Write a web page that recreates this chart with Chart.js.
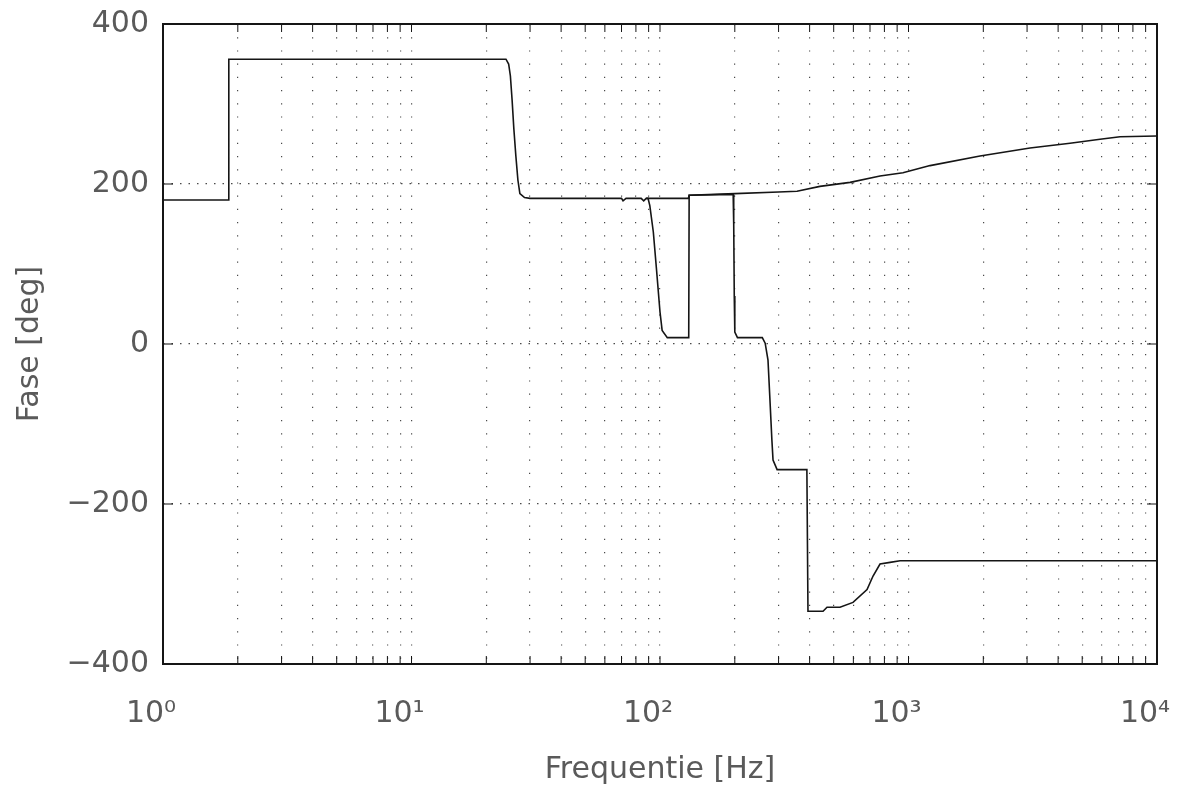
<!DOCTYPE html>
<html lang="nl">
<head>
  <meta charset="UTF-8">
  <title>Fase [deg]</title>
  <script src="https://cdn.jsdelivr.net/npm/chart.js"></script>
  <style>
    html, body {
      margin: 0;
      padding: 0;
      background: #ffffff;
    }
    #wrap {
      width: 1184px;
      height: 800px;
      position: relative;
    }
  </style>
</head>
<body>
  <div id="wrap"><canvas id="fase"></canvas></div>

  <script>
    // frequentie-as (log) en fase-as
    const xTickValues = [1, 2, 3, 4, 5, 6, 7, 8, 9,
      10, 20, 30, 40, 50, 60, 70, 80, 90,
      100, 200, 300, 400, 500, 600, 700, 800, 900,
      1000, 2000, 3000, 4000, 5000, 6000, 7000, 8000, 9000, 10000];
    const decadeLabels = { 1: "10\u2070", 10: "10\u00B9", 100: "10\u00B2", 1000: "10\u00B3", 10000: "10\u2074" };
    const yTickValues = [-400, -200, 0, 200, 400];

    // curve 1 (bovenste tak)
    const freqA = [1, 1.83, 1.84, 24, 24.6, 25, 25.4, 25.8, 26.3, 26.8, 27.3, 28.5, 30,
      70, 71, 73, 84, 86, 88, 130, 131, 200, 300, 356, 440, 582, 768, 950,
      1221, 1940, 3083, 4467, 5900, 7100, 10000];
    const phaseA = [180, 180, 356, 356, 350, 335, 305, 270, 235, 205, 188, 183, 182,
      182, 179, 182, 182, 179, 182, 182, 186, 188, 190, 191, 197, 202, 210, 214,
      223, 235, 245, 251, 256, 259, 260];

    // curve 2 (met de dips en de onderste tak)
    const freqB = [88, 89.5, 91, 94, 97, 100, 102, 107, 124, 130.5, 131,
      197, 198, 199, 200, 205, 248, 258, 265, 272, 277, 282, 285, 296,
      390, 394, 453, 470, 530, 598, 681, 720, 768, 843, 925, 10000];
    const phaseB = [182, 182, 173, 140, 90, 40, 17, 8, 8, 8, 186,
      187, 150, 60, 15, 8, 8, 8, 1, -20, -70, -120, -145, -157,
      -157, -334, -334, -329, -329, -323, -307, -290, -275, -273, -271, -271];

    const toPoints = (xs, ys) => xs.map((x, i) => ({ x: x, y: ys[i] }));

    const ink = "#151515";
    const gridInk = "#4a4a4a";
    const textInk = "#5a5a5a";

    // kader + korte tickjes naar binnen
    const framePlugin = {
      id: "frame",
      afterDraw(chart) {
        const { ctx, chartArea: a, scales } = chart;
        ctx.save();
        ctx.strokeStyle = ink;
        ctx.lineWidth = 1;
        xTickValues.forEach(v => {
          const px = scales.x.getPixelForValue(v);
          ctx.beginPath();
          ctx.moveTo(px, a.bottom);
          ctx.lineTo(px, a.bottom - 8);
          ctx.moveTo(px, a.top);
          ctx.lineTo(px, a.top + 8);
          ctx.stroke();
        });
        yTickValues.forEach(v => {
          const py = scales.y.getPixelForValue(v);
          ctx.beginPath();
          ctx.moveTo(a.left, py);
          ctx.lineTo(a.left + 10, py);
          ctx.moveTo(a.right, py);
          ctx.lineTo(a.right - 10, py);
          ctx.stroke();
        });
        ctx.lineWidth = 2;
        ctx.strokeRect(a.left, a.top, a.right - a.left, a.bottom - a.top);
        ctx.restore();
      }
    };

    new Chart(document.getElementById("fase"), {
      type: "scatter",
      data: {
        datasets: [
          {
            label: "curve 2",
            data: toPoints(freqB, phaseB),
            showLine: true,
            borderColor: ink,
            borderWidth: 1.6,
            pointRadius: 0,
            fill: false
          },
          {
            label: "curve 1",
            data: toPoints(freqA, phaseA),
            showLine: true,
            borderColor: ink,
            borderWidth: 1.6,
            pointRadius: 0,
            fill: false
          }
        ]
      },
      options: {
        responsive: true,
        maintainAspectRatio: false,
        animation: false,
        layout: { padding: { top: 24, right: 27, bottom: 0, left: 0 } },
        plugins: {
          legend: { display: false },
          tooltip: { enabled: false }
        },
        scales: {
          x: {
            type: "logarithmic",
            min: 1,
            max: 10000,
            afterBuildTicks: scale => {
              scale.ticks = xTickValues.map(v => ({ value: v }));
            },
            afterFit: scale => {
              scale.height = 136;
              scale.paddingLeft = 0;
              scale.paddingRight = 0;
            },
            ticks: {
              autoSkip: false,
              maxRotation: 0,
              padding: 32,
              labelOffset: -12,
              color: textInk,
              font: { family: "DejaVu Sans", size: 30 },
              callback: value => decadeLabels[value] || ""
            },
            grid: {
              drawTicks: false,
              color: gridInk,
              lineWidth: 1.2
            },
            border: { display: false, dash: [1.2, 12] },
            title: {
              display: true,
              text: "Frequentie [Hz]",
              color: textInk,
              font: { family: "DejaVu Sans", size: 30 },
              padding: { top: 0, bottom: 12 }
            }
          },
          y: {
            min: -400,
            max: 400,
            afterBuildTicks: scale => {
              scale.ticks = yTickValues.map(v => ({ value: v }));
            },
            afterFit: scale => {
              scale.width = 163;
              scale.paddingTop = 0;
              scale.paddingBottom = 0;
            },
            ticks: {
              padding: 14,
              color: textInk,
              font: { family: "DejaVu Sans", size: 30 },
              callback: value => (value < 0 ? "\u2212" + Math.abs(value) : String(value))
            },
            grid: {
              drawTicks: false,
              color: gridInk,
              lineWidth: 1.3
            },
            border: { display: false, dash: [1.5, 7] },
            title: {
              display: true,
              text: "Fase [deg]",
              color: textInk,
              font: { family: "DejaVu Sans", size: 30 },
              padding: { top: 12, bottom: 0 }
            }
          }
        }
      },
      plugins: [framePlugin]
    });
  </script>
</body>
</html>
